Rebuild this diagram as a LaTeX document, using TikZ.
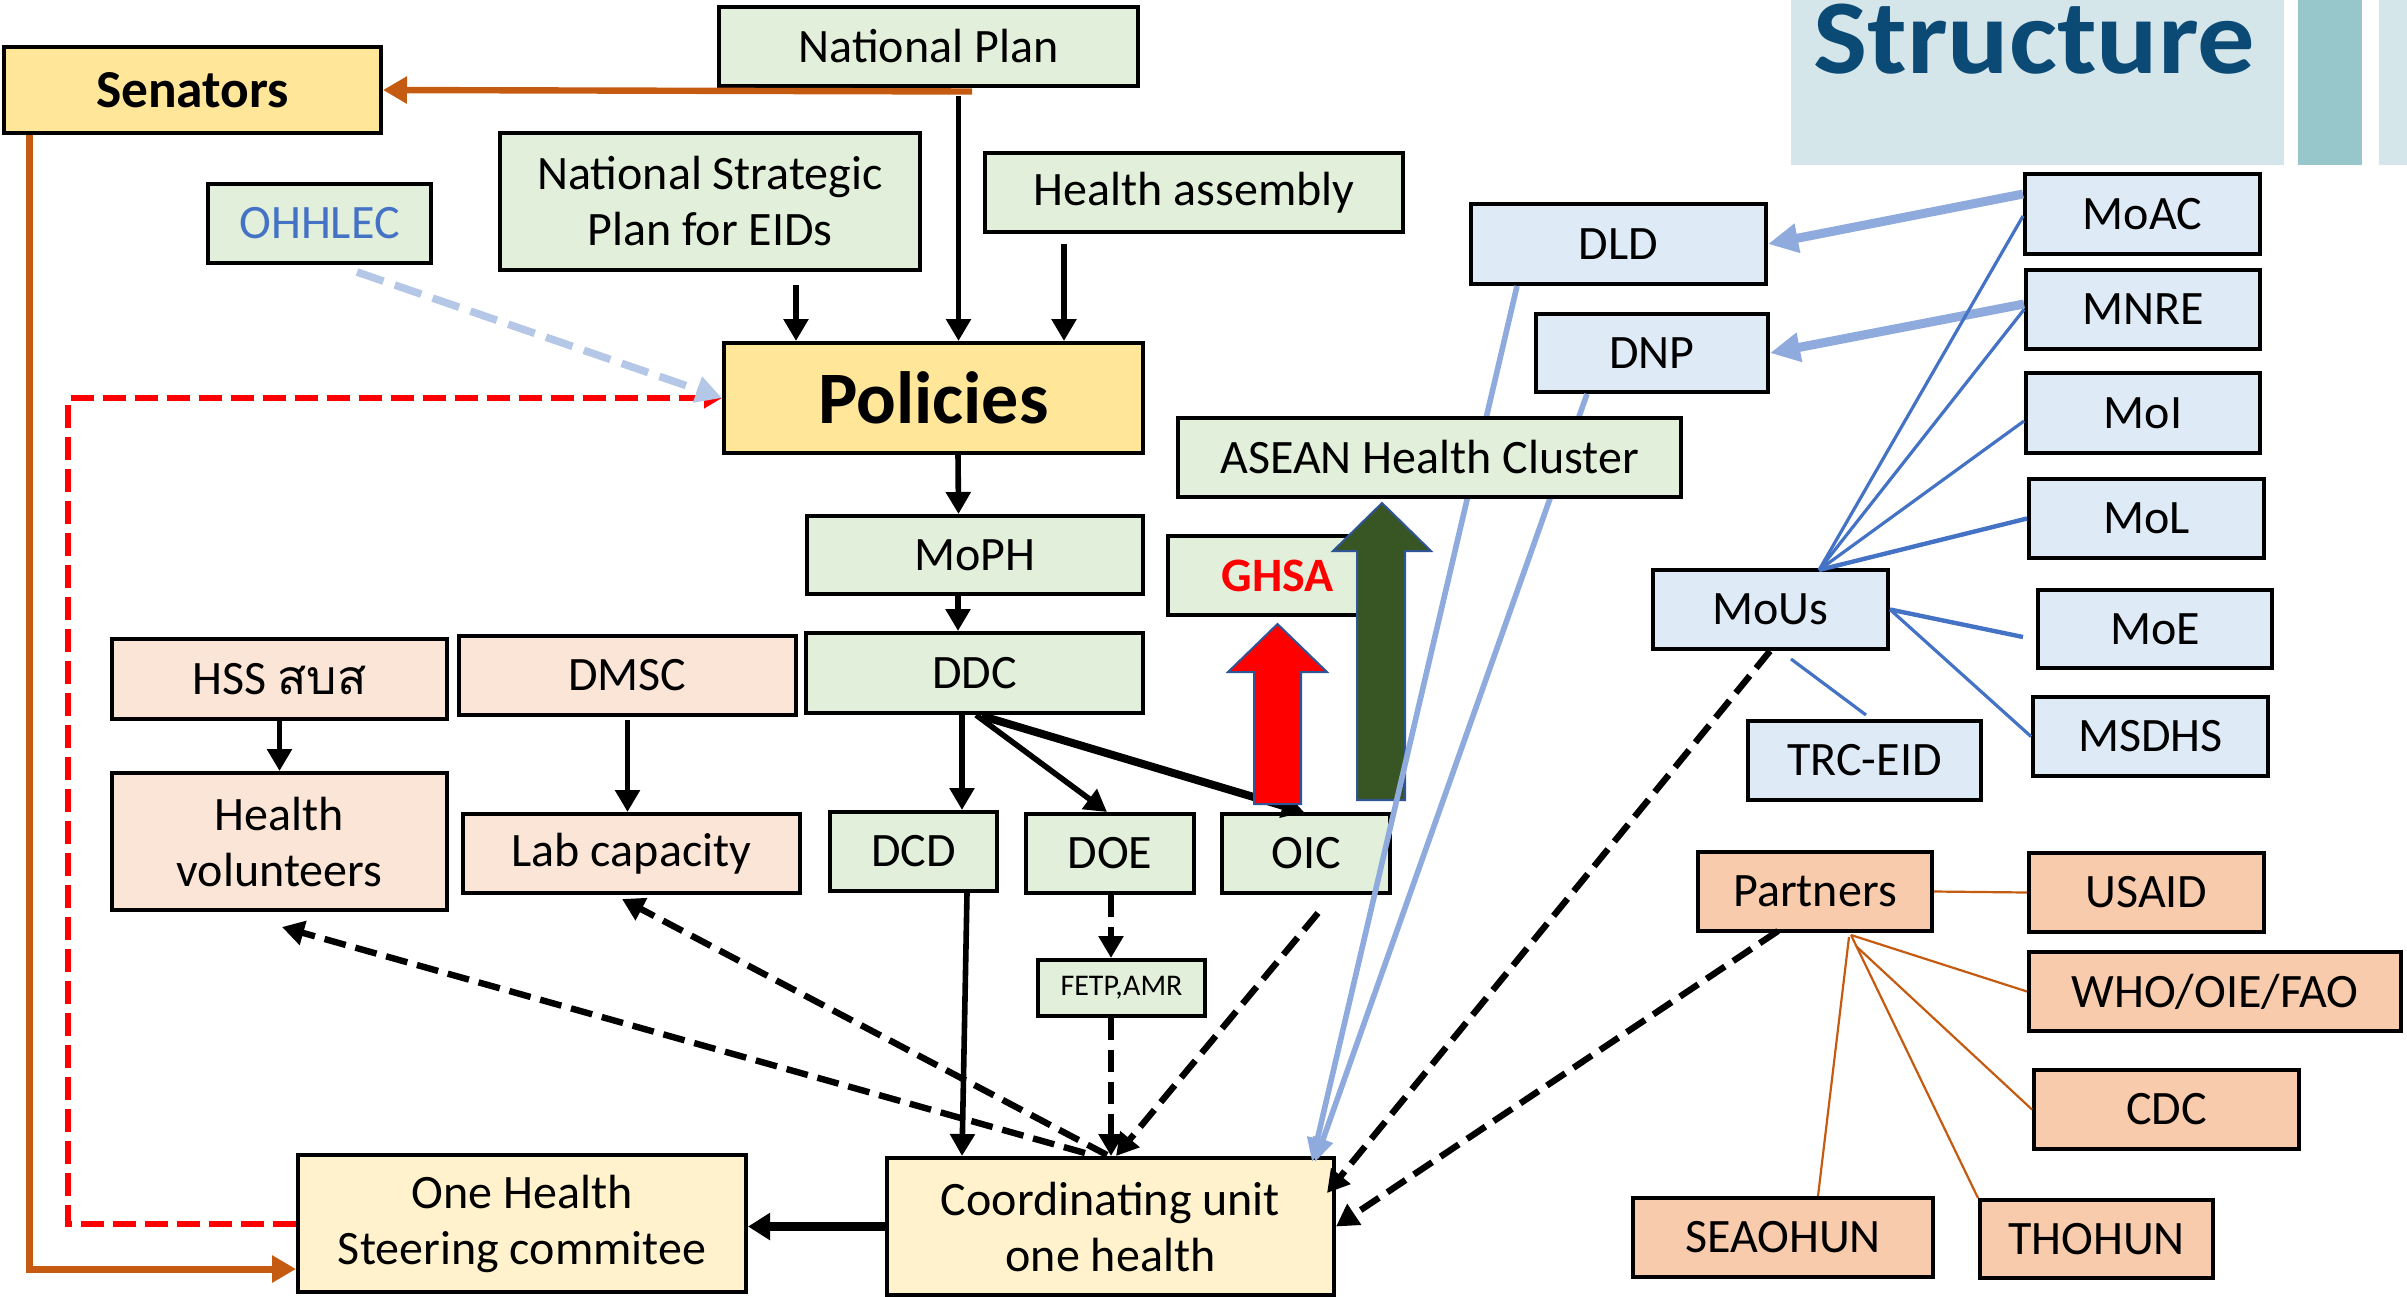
\documentclass[tikz,border=0pt]{standalone}
\usepackage{graphicx}
\usepackage{fontspec}
\setmainfont{Carlito}
\newfontfamily\thaifont[Script=Thai]{Loma}
\usetikzlibrary{arrows.meta,calc}
\definecolor{gfill}{HTML}{E2EFDA}
\definecolor{yfill}{HTML}{FFE699}
\definecolor{pyfill}{HTML}{FFF2CC}
\definecolor{pkfill}{HTML}{FBE5D6}
\definecolor{bfill}{HTML}{DEEBF7}
\definecolor{ofill}{HTML}{F8CBAD}
\definecolor{orln}{HTML}{C55A11}
\definecolor{blln}{HTML}{4472C4}
\definecolor{lbln}{HTML}{8FAADC}
\definecolor{ohdash}{HTML}{B4C7E7}
\definecolor{dkgreen}{HTML}{375623}
\definecolor{arrbord}{HTML}{2F5597}
\definecolor{hdrbg}{HTML}{D5E6EA}
\definecolor{hdrbar}{HTML}{97C6CB}
\definecolor{hdrtxt}{HTML}{0C4A76}
\begin{document}
\begin{tikzpicture}[x=0.5pt,y=-0.5pt,
  bx/.style={draw=black, line width=2pt, font=\fontsize{24}{28}\selectfont, align=center, inner sep=1pt},
  gbx/.style={bx, fill=gfill},
  ybx/.style={bx, fill=yfill},
  pybx/.style={bx, fill=pyfill},
  pkbx/.style={bx, fill=pkfill},
  bbx/.style={bx, fill=bfill},
  obx/.style={bx, fill=ofill},
  arr/.style={line width=2.8pt, -{Triangle[length=11pt,width=12pt]}},
  thkarr/.style={line width=4pt, -{Triangle[length=11pt,width=12pt]}},
  darr/.style={line width=3.2pt, dash pattern=on 11pt off 5pt, -{Triangle[length=11pt,width=12pt]}},
  orarr/.style={draw=orln, line width=3.2pt, -{Triangle[length=12pt,width=13pt]}},
  reddash/.style={draw=red, line width=3pt, dash pattern=on 11.5pt off 4.5pt, -{Triangle[length=9pt,width=10pt]}},
  ohdarr/.style={draw=ohdash, line width=3.8pt, dash pattern=on 14pt off 6pt, -{Triangle[length=13pt,width=13pt]}},
  lbarr/.style={draw=lbln, line width=4.5pt, -{Triangle[length=15pt,width=14pt]}},
  lbln2/.style={draw=lbln, line width=2.8pt, -{Triangle[length=12pt,width=10pt]}},
  bthin/.style={draw=blln, line width=1.6pt},
  othin/.style={draw=orln, line width=1.1pt},
  blockarr/.style={draw=arrbord, line width=1pt}
]
\useasboundingbox (0,0) rectangle (2407,1296);

% header
\fill[hdrbg] (1791,0) rectangle (2284,165);
\fill[hdrbar] (2298,0) rectangle (2362,165);
\fill[hdrbg] (2379,0) rectangle (2407,165);
\node[anchor=base west, inner sep=0, text=hdrtxt, font=\fontsize{53}{53}\bfseries\selectfont] (title) at (1813,73) {\scalebox{1.08}[1]{Structure}};

% nodes
\node[ybx, minimum width=188.5pt, minimum height=43pt, font=\fontsize{26.7}{30}\bfseries\selectfont] (sen) at (192.5,90) {Senators};
\node[gbx, minimum width=209.5pt, minimum height=39.5pt] (np) at (928.5,46.5) {National Plan};
\node[gbx, minimum width=210pt, minimum height=68.5pt] (nsp) at (710,201.5) {National Strategic\\Plan for EIDs};
\node[gbx, minimum width=209pt, minimum height=39.5pt] (ha) at (1194,192.5) {Health assembly};
\node[gbx, minimum width=111.5pt, minimum height=39.5pt, text=blln] (ohh) at (319.5,223.5) {OHHLEC};
\node[ybx, minimum width=209.5pt, minimum height=55pt, font=\fontsize{37}{40}\bfseries\selectfont] (pol) at (933.5,398) {Policies};
\node[gbx, minimum width=168pt, minimum height=39pt] (moph) at (975,555) {MoPH};
\node[gbx, minimum width=168.5pt, minimum height=40pt] (ddc) at (974.5,673) {DDC};
\node[pkbx, minimum width=167.5pt, minimum height=40pt] (hss) at (279.5,679) {HSS {\thaifont สบส}};
\node[pkbx, minimum width=168.5pt, minimum height=39.5pt] (dmsc) at (627.5,675.5) {DMSC};
\node[pkbx, minimum width=167.5pt, minimum height=68.5pt] (hv) at (279.5,841.5) {Health\\volunteers};
\node[pkbx, minimum width=168.5pt, minimum height=39.5pt] (lab) at (631.5,853.5) {Lab capacity};
\node[gbx, minimum width=83.5pt, minimum height=39.5pt] (dcd) at (913.5,851.5) {DCD};
\node[gbx, minimum width=84pt, minimum height=39.5pt] (doe) at (1110,853.5) {DOE};
\node[gbx, minimum width=84pt, minimum height=39.5pt] (oic) at (1306,853.5) {OIC};
\node[gbx, minimum width=83.5pt, minimum height=28pt, font=\fontsize{15}{17}\selectfont] (fetp) at (1121.5,988) {FETP,AMR};
\node[gbx, minimum width=110pt, minimum height=39.5pt, text=red, font=\fontsize{24}{28}\bfseries\selectfont] (ghsa) at (1278,575.5) {GHSA};
\node[bbx, minimum width=147.5pt, minimum height=40pt] (dld) at (1618.5,244) {DLD};
\node[bbx, minimum width=116pt, minimum height=39pt] (dnp) at (1652,353) {DNP};
\node[bbx, minimum width=117.5pt, minimum height=40pt] (moac) at (2142.5,214) {MoAC};
\node[bbx, minimum width=117pt, minimum height=39.5pt] (mnre) at (2143,309.5) {MNRE};
\node[bbx, minimum width=117pt, minimum height=40pt] (moi) at (2143,413) {MoI};
\node[bbx, minimum width=117.5pt, minimum height=39.5pt] (mol) at (2146.5,518.5) {MoL};
\node[bbx, minimum width=117pt, minimum height=39pt] (moe) at (2155,629) {MoE};
\node[bbx, minimum width=117.5pt, minimum height=39.5pt] (msdhs) at (2150.5,736.5) {MSDHS};
\node[bbx, minimum width=117.5pt, minimum height=39.5pt] (mous) at (1770.5,609.5) {MoUs};
\node[bbx, minimum width=116.5pt, minimum height=39.5pt] (trc) at (1864.5,760.5) {TRC-EID};
\node[obx, minimum width=117pt, minimum height=39.5pt] (partners) at (1815,891.5) {Partners};
\node[obx, minimum width=117.5pt, minimum height=39.5pt] (usaid) at (2146.5,892.5) {USAID};
\node[obx, minimum width=186pt, minimum height=39.5pt] (who) at (2215,991.5) {WHO/OIE/FAO};
\node[obx, minimum width=132.5pt, minimum height=39.5pt] (cdc) at (2166.5,1109.5) {CDC};
\node[obx, minimum width=150pt, minimum height=39.5pt] (seao) at (1783,1237.5) {SEAOHUN};
\node[obx, minimum width=116.5pt, minimum height=39pt] (thoh) at (2096.5,1239) {THOHUN};
\node[pybx, minimum width=224pt, minimum height=68.5pt] (ohsc) at (522,1223.5) {One Health\\Steering commitee};
\node[pybx, minimum width=223.5pt, minimum height=68.5pt] (cu) at (1110.5,1226.5) {Coordinating unit\\one health};

% black connectors
\draw[arr] ($(np.south)+(30,8)$) -- ($(pol.north)+(25,0)$);
\draw[arr] ($(nsp.south)+(86,13)$) -- ($(pol.north)+(-137.5,0)$);
\draw[arr] ($(ha.south)+(-130,10)$) -- ($(pol.north)+(130.5,0)$);
\draw[arr] ($(pol.south)+(24.5,0)$) -- ($(moph.north)+(-16.5,0)$);
\draw[arr] ($(moph.south)+(-17,0)$) -- ($(ddc.north)+(-16.5,0)$);
\draw[arr] (hss.south) -- (hv.north);
\draw[arr] ($(dmsc.south)+(0,3)$) -- ($(lab.north)+(-4,0)$);
\draw[arr] ($(ddc.south)+(-12.5,0)$) -- ($(dcd.north)+(48.5,0)$);
\draw[arr] ($(ddc.south)+(1.5,0)$) -- ($(doe.north)+(-3,0)$);
\draw[thkarr] ($(ddc.south)+(7.5,1)$) -- ($(oic.north)+(-2,0)$);
\draw[arr] ($(dcd.south)+(53.5,0)$) -- ($(cu.north)+(-148.5,0)$);
\draw[line width=4.6pt, -{Triangle[length=11pt,width=13pt]}] (cu.west) -- (cu.west -| ohsc.east);

% dashed connectors
\draw[darr] ($(doe.south)+(1,0)$) -- ($(fetp.north)+(-10.5,0)$);
\draw[darr] ($(fetp.south)+(-10.5,0)$) -- ($(cu.north)+(0.5,0)$);
\draw[darr] ($(cu.north)+(-3.5,-1)$) -- ($(lab.south)+(-9.5,4)$);
\draw[darr] ($(cu.north)+(-25.5,-3)$) -- ($(hv.south)+(2.5,15)$);
\draw[darr] ($(oic.south)+(12,18)$) -- ($(cu.north)+(5.5,0)$);
\draw[darr] ($(mous.south)+(-0.5,0)$) -- ($(cu.north east)+(-9,37)$);
\draw[darr] ($(partners.south)+(-37,-2)$) -- (cu.east);

% orange
\coordinate (npo) at ($(np.south)+(43.5,3.5)$);
\draw[orarr] (npo) -- (sen.east);
\draw[orarr, line width=3.5pt] ($(sen.south west)+(27,0)$) |- ($(ohsc.west)+(0,45.5)$);

% red dashed and OHHLEC dashed
\draw[reddash] (ohsc.west) -- ++(-228,0) |- (pol.west);
\draw[ohdarr] ($(ohh.south)+(37.5,7)$) -- (pol.west);

% block arrows
\filldraw[blockarr, fill=red] (1254,804) -- (1254,672) -- (1228,672) -- (1277.5,624) -- (1327,672) -- (1301,672) -- (1301,804) -- cycle;
\filldraw[blockarr, fill=dkgreen] (1357,800) -- (1357,551) -- (1333,551) -- (1382,503) -- (1431,551) -- (1405,551) -- (1405,800) -- cycle;

% blue connectors
\draw[lbarr] ($(moac.west)+(0,-20)$) -- (dld.east);
\draw[lbarr] ($(mnre.west)+(0,-5.5)$) -- (dnp.east);
\draw[lbln2] ($(dld.south)+(-101.5,0)$) -- ($(cu.north east)+(-24,6)$);
\draw[lbln2] ($(dnp.south)+(-65,0)$) -- ($(cu.north east)+(-21,6)$);
\node[gbx, minimum width=251.5pt, minimum height=39.5pt] (asean) at (1429.5,457.5) {ASEAN Health Cluster};

\coordinate (mtop) at ($(mous.north)+(48.5,2)$);
\draw[bthin] (mtop) -- ($(moac.west)+(0,2)$);
\draw[bthin] (mtop) -- (mnre.west);
\draw[bthin] (mtop) -- ($(moi.west)+(0,8)$);
\draw[bthin, line width=2.2pt] (mtop) -- (mol.west);
\draw[bthin, line width=2.2pt] (mous.east) -- ($(moe.west)+(-13,8)$);
\draw[bthin] (mous.east) -- (msdhs.west);
\draw[bthin] ($(mous.south)+(20.5,8)$) -- ($(trc.north)+(1.5,-4)$);

% partner lines
\coordinate (pbot) at ($(partners.south)+(36,2)$);
\draw[othin] (partners.east) -- (usaid.west);
\draw[othin] (pbot) -- (who.west);
\draw[othin] ($(partners.south)+(42,14)$) -- (cdc.west);
\draw[othin] (pbot) -- (thoh.north west);
\draw[othin] ($(partners.south)+(34,4)$) -- ($(seao.north)+(35,0)$);
\end{tikzpicture}
\end{document}
